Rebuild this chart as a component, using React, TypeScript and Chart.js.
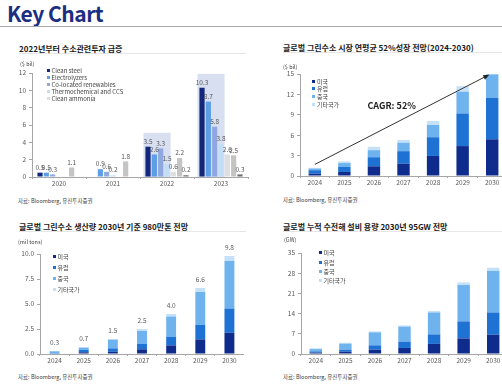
import React, { useEffect, useRef } from 'react';
import { Chart, registerables } from 'chart.js';
Chart.register(...registerables);

const FONT = "'Noto Sans CJK KR', 'Noto Sans', sans-serif";

// ---------- Chart 1: investment ----------
const investYears = ['2020', '2021', '2022', '2023'];
const investNames = ['Clean steel', 'Electrolyzers', 'Co-located renewables', 'Thermochemical and CCS', 'Clean ammonia', 'Other A', 'Other B'];
const cleanSteel = [0.5, 0, 3.5, 10.3];
const electrolyzers = [0.5, 0.9, 2.6, 8.7];
const coLocated = [0.3, 0.6, 3.3, 5.8];
const thermochemical = [0, 0.2, 1.5, 3.8];
const cleanAmmonia = [0, 0, 0.6, 2.6];
const otherA = [1.1, 1.8, 2.2, 2.5];
const otherB = [0, 0, 0.2, 0.3];
const investLegendCount = 5;
const highlightYears = ['2022', '2023'];
const highlightTop = [5.1, 11.9];
const investAxis = [0, 12, 2];

// ---------- shared ----------
const years = ['2024', '2025', '2026', '2027', '2028', '2029', '2030'];
const regions = ['미국', '유럽', '중국', '기타국가'];

// ---------- Chart 2: market ----------
const marketUS = [0.35, 0.6, 1.43, 1.8, 2.95, 4.4, 5.4];
const marketEU = [0.5, 0.73, 1.33, 1.85, 2.75, 4.8, 6.1];
const marketCN = [0.25, 0.57, 1.04, 1.25, 1.8, 3.2, 3.45];
const marketOther = [0.1, 0.25, 0.5, 0.4, 0.6, 0.8, 0];
const marketAxis = [0, 15, 3];
const cagrLabel = 'CAGR: 52%';
const cagrFrom = 1.7;
const cagrTo = 14.9;

// ---------- Chart 3: production ----------
const prodUS = [0.05, 0.17, 0.23, 0.47, 0.86, 1.46, 2.13];
const prodEU = [0.05, 0.23, 0.33, 0.53, 0.84, 1.46, 2.42];
const prodCN = [0.17, 0.23, 0.87, 1.3, 2.05, 3.28, 4.75];
const prodOther = [0.03, 0.07, 0.07, 0.2, 0.25, 0.4, 0.5];
const prodTotals = [0.3, 0.7, 1.5, 2.5, 4.0, 6.6, 9.8];
const prodAxis = [0, 10, 2.5];

// ---------- Chart 4: capacity ----------
const capUS = [0.46, 0.8, 1.5, 2.1, 3.5, 5.4, 6.7];
const capEU = [0.44, 0.7, 1.5, 2.2, 3.3, 5.9, 7.7];
const capCN = [0.8, 2.1, 4.5, 5.2, 7.6, 12.6, 14.4];
const capOther = [0.3, 0.3, 0.35, 0.4, 0.5, 0.9, 1.1];
const capAxis = [0, 35, 7];

const investColors = ['#13277d', '#5d9ee6', '#8fa8e0', '#c2def7', '#dedede', '#c4c4c4', '#6e6e6e'];
const regionColors = ['#0f2b8c', '#1d72d4', '#6fb3ee', '#c5e0f9'];
const AXIS = '#a6a6a6';
const TICK = '#595959';

function scales(yWidth: number, axis: number[], stacked: boolean, decimals: number) {
  return {
    x: {
      stacked,
      grid: { display: true, drawOnChartArea: false, tickLength: 2, color: AXIS, offset: true },
      border: { display: true, color: AXIS },
      ticks: { color: TICK, font: { family: FONT, size: 6.5 }, padding: 1, maxRotation: 0, autoSkip: false },
      afterFit: (s: any) => { s.height = 18; },
    },
    y: {
      stacked,
      min: axis[0],
      max: axis[1],
      grid: { display: true, drawOnChartArea: false, tickLength: 3, color: AXIS },
      border: { display: true, color: AXIS },
      ticks: {
        stepSize: axis[2],
        color: TICK,
        font: { family: FONT, size: 6.5 },
        padding: 3,
        callback: (v: any) => Number(v).toFixed(decimals),
      },
      afterFit: (s: any) => { s.width = yWidth; },
    },
  };
}

function baseOptions(yWidth: number, axis: number[], stacked: boolean, decimals: number, padTop: number, padRight: number) {
  return {
    responsive: false,
    animation: false as const,
    devicePixelRatio: 1,
    layout: { padding: { top: padTop, right: padRight, left: 0, bottom: 0 } },
    plugins: { legend: { display: false }, tooltip: { enabled: false } },
    scales: scales(yWidth, axis, stacked, decimals),
  };
}

const investLabelsPlugin = {
  id: 'investLabels',
  beforeDatasetsDraw(chart: any) {
    const ctx = chart.ctx;
    const y = chart.scales.y;
    ctx.save();
    ctx.fillStyle = '#d8dff0';
    highlightYears.forEach((yr, k) => {
      const idx = investYears.indexOf(yr);
      const first = chart.getDatasetMeta(0).data[idx];
      const fourth = chart.getDatasetMeta(3).data[idx];
      const left = first.x - first.width / 2 - 2;
      const right = fourth.x + fourth.width / 2 + 1;
      const top = y.getPixelForValue(highlightTop[k]);
      ctx.fillRect(left, top, right - left, y.getPixelForValue(0) - top);
    });
    ctx.restore();
  },
  afterDatasetsDraw(chart: any) {
    const ctx = chart.ctx;
    ctx.save();
    ctx.font = `6.5px ${FONT}`;
    ctx.fillStyle = TICK;
    ctx.textAlign = 'center';
    ctx.textBaseline = 'bottom';
    chart.data.datasets.forEach((ds: any, i: number) => {
      const meta = chart.getDatasetMeta(i);
      ds.data.forEach((v: number, j: number) => {
        if (v > 0) {
          const el = meta.data[j];
          ctx.fillText(v.toFixed(1), el.x, el.y - 2);
        }
      });
    });
    ctx.restore();
  },
};

const cagrPlugin = {
  id: 'cagr',
  afterDatasetsDraw(chart: any) {
    const ctx = chart.ctx;
    const xs = chart.scales.x;
    const ys = chart.scales.y;
    const x1 = xs.getPixelForValue(0);
    const y1 = ys.getPixelForValue(cagrFrom);
    const x2 = xs.getPixelForValue(years.length - 1) - 3;
    const y2 = ys.getPixelForValue(cagrTo);
    ctx.save();
    ctx.strokeStyle = '#333333';
    ctx.fillStyle = '#222222';
    ctx.lineWidth = 1;
    const ang = Math.atan2(y2 - y1, x2 - x1);
    const hl = 6;
    ctx.beginPath();
    ctx.moveTo(x1, y1);
    ctx.lineTo(x2 - hl * 0.8 * Math.cos(ang), y2 - hl * 0.8 * Math.sin(ang));
    ctx.stroke();
    ctx.beginPath();
    ctx.moveTo(x2, y2);
    ctx.lineTo(x2 - hl * Math.cos(ang) + 2.5 * Math.sin(ang), y2 - hl * Math.sin(ang) - 2.5 * Math.cos(ang));
    ctx.lineTo(x2 - hl * Math.cos(ang) - 2.5 * Math.sin(ang), y2 - hl * Math.sin(ang) + 2.5 * Math.cos(ang));
    ctx.closePath();
    ctx.fill();
    ctx.font = `bold 9px ${FONT}`;
    ctx.textAlign = 'center';
    ctx.textBaseline = 'middle';
    ctx.fillText(cagrLabel, xs.getPixelForValue(2.6), ys.getPixelForValue(10.4));
    ctx.restore();
  },
};

const totalsPlugin = {
  id: 'totals',
  afterDatasetsDraw(chart: any) {
    const ctx = chart.ctx;
    const xs = chart.scales.x;
    const ys = chart.scales.y;
    ctx.save();
    ctx.font = `6.5px ${FONT}`;
    ctx.fillStyle = TICK;
    ctx.textAlign = 'center';
    ctx.textBaseline = 'bottom';
    prodTotals.forEach((t, i) => {
      ctx.fillText(t.toFixed(1), xs.getPixelForValue(i), ys.getPixelForValue(t) - 5);
    });
    ctx.restore();
  },
};

function stackedData(values: number[][], bar: number) {
  return {
    labels: years,
    datasets: values.map((d, i) => ({
      label: regions[i],
      data: d,
      backgroundColor: regionColors[i],
      borderWidth: 0,
      barPercentage: bar,
      categoryPercentage: 1,
    })),
  };
}

function ChartBox(props: { left: number; top: number; width: number; height: number; make: () => any }) {
  const ref = useRef<HTMLCanvasElement>(null);
  useEffect(() => {
    const chart = new Chart(ref.current as HTMLCanvasElement, props.make());
    return () => chart.destroy();
  }, []);
  return (
    <canvas
      ref={ref}
      width={props.width}
      height={props.height}
      style={{ position: 'absolute', left: props.left, top: props.top, width: props.width, height: props.height }}
    />
  );
}

function Text(props: { x: number; y: number; size: number; children: any; bold?: boolean; color?: string; align?: string }) {
  return (
    <div
      style={{
        position: 'absolute',
        left: props.x,
        top: props.y - props.size / 2,
        fontSize: props.size,
        lineHeight: `${props.size}px`,
        fontWeight: props.bold ? 700 : 400,
        color: props.color || '#404040',
        whiteSpace: 'nowrap',
        fontFamily: FONT,
      }}
    >
      {props.children}
    </div>
  );
}

function Legend(props: { x: number; y: number; gap: number; names: string[]; colors: string[] }) {
  return (
    <>
      {props.names.map((n, i) => (
        <div key={n} style={{ position: 'absolute', left: props.x, top: props.y + i * props.gap - 3, height: 6, display: 'flex', alignItems: 'center', fontFamily: FONT, fontSize: 6, color: '#404040', whiteSpace: 'nowrap' }}>
          <span style={{ display: 'inline-block', width: 3, height: 3, background: props.colors[i], marginRight: 2 }} />
          {n}
        </div>
      ))}
    </>
  );
}

function SectionTitle(props: { x: number; y: number; lineTo: number; text: string }) {
  return (
    <>
      <div style={{ position: 'absolute', left: props.x, top: props.y + 4, width: props.lineTo - props.x, height: 1, background: '#e6e6e6' }} />
      <Text x={props.x} y={props.y} size={8} bold color="#1a1a1a">{props.text}</Text>
    </>
  );
}

export default function App() {
  const makeInvest = () => ({
    type: 'bar',
    data: {
      labels: investYears,
      datasets: [cleanSteel, electrolyzers, coLocated, thermochemical, cleanAmmonia, otherA, otherB].map((d, i) => ({
        label: investNames[i],
        data: d,
        backgroundColor: investColors[i],
        borderWidth: 0,
        barPercentage: 0.82,
        categoryPercentage: 0.82,
      })),
    },
    options: baseOptions(32, investAxis, false, 0, 13, 2),
    plugins: [investLabelsPlugin],
  });
  const makeMarket = () => ({
    type: 'bar',
    data: stackedData([marketUS, marketEU, marketCN, marketOther], 0.42),
    options: baseOptions(49, marketAxis, true, 0, 14, 0),
    plugins: [cagrPlugin],
  });
  const makeProd = () => ({
    type: 'bar',
    data: stackedData([prodUS, prodEU, prodCN, prodOther], 0.34),
    options: baseOptions(40, prodAxis, true, 1, 14, 0),
    plugins: [totalsPlugin],
  });
  const makeCap = () => ({
    type: 'bar',
    data: stackedData([capUS, capEU, capCN, capOther], 0.42),
    options: baseOptions(50, capAxis, true, 0, 13, 0),
  });

  return (
    <div style={{ position: 'fixed', left: 0, top: 0, width: 502, height: 388, overflow: 'hidden', background: '#ffffff', fontFamily: FONT }}>
      <div style={{ position: 'absolute', left: 7, top: 1, fontSize: 21, lineHeight: '24px', fontWeight: 700, color: '#1c2e82', fontFamily: FONT, letterSpacing: -0.5 }}>Key Chart</div>
      <div style={{ position: 'absolute', left: 0, top: 26, width: 502, height: 1, background: '#a9a9a9' }} />

      <SectionTitle x={19} y={49} lineTo={246} text="2022년부터 수소관련투자 급증" />
      <SectionTitle x={283} y={48} lineTo={502} text="글로벌 그린수소 시장 연평균 52%성장 전망(2024-2030)" />
      <SectionTitle x={19} y={227} lineTo={246} text="글로벌 그린수소 생산량 2030년 기준 980만톤 전망" />
      <SectionTitle x={283} y={227} lineTo={502} text="글로벌 누적 수전해 설비 용량 2030년 95GW 전망" />

      <ChartBox left={0} top={60} width={250} height={135} make={makeInvest} />
      <ChartBox left={251} top={60} width={256} height={134} make={makeMarket} />
      <ChartBox left={0} top={240} width={244} height={132} make={makeProd} />
      <ChartBox left={251} top={240} width={257} height={132} make={makeCap} />

      <Text x={20} y={65} size={5.5}>($ bil)</Text>
      <Text x={283} y={67.5} size={5.5}>($ bil)</Text>
      <Text x={18} y={243} size={5.5}>(mil tons)</Text>
      <Text x={284} y={241} size={5.5}>(GW)</Text>

      <Legend x={46.5} y={70.7} gap={7} names={investNames.slice(0, investLegendCount)} colors={investColors} />
      <Legend x={312} y={81} gap={7.7} names={regions} colors={regionColors} />
      <Legend x={52.5} y={256.7} gap={10.8} names={regions} colors={regionColors} />
      <Legend x={318.5} y={252.7} gap={9.4} names={regions} colors={regionColors} />

      <Text x={18} y={202} size={5.5}>자료: Bloomberg, 유진투자증권</Text>
      <Text x={283} y={201} size={5.5}>자료: Bloomberg, 유진투자증권</Text>
      <Text x={18} y={378} size={5.5}>자료: Bloomberg, 유진투자증권</Text>
      <Text x={283} y={378} size={5.5}>자료: Bloomberg, 유진투자증권</Text>
    </div>
  );
}
